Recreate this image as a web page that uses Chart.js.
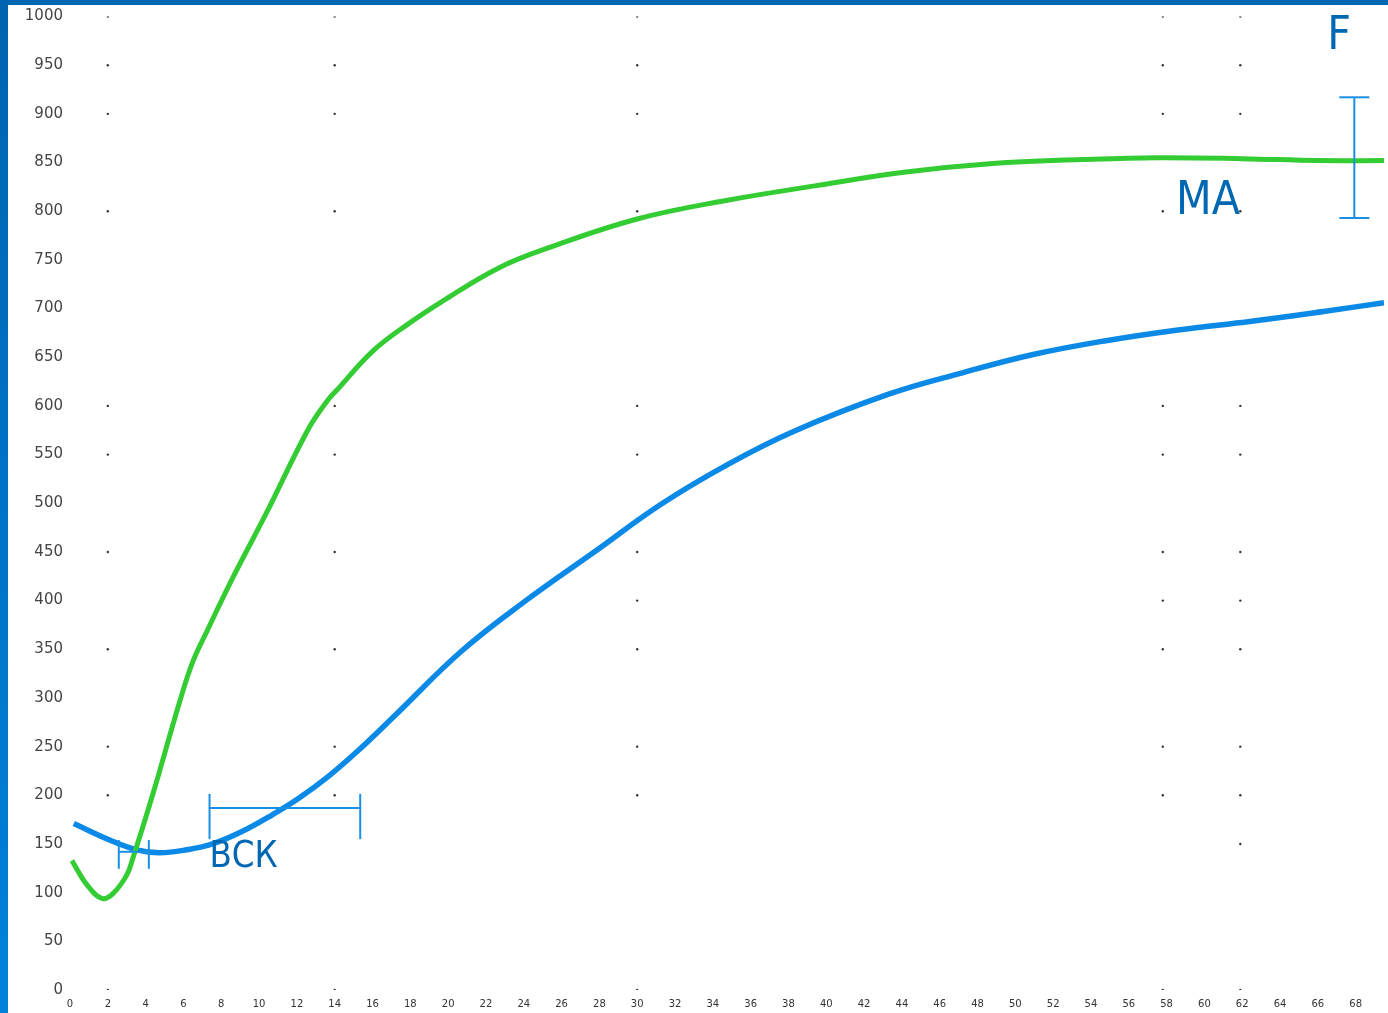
<!DOCTYPE html>
<html>
<head>
<meta charset="utf-8">
<script src="https://cdn.jsdelivr.net/npm/chart.js@4.4.1/dist/chart.umd.min.js"></script>
<style>
  html, body { margin: 0; padding: 0; background: #fff; overflow: hidden; }
  #topBar { position: absolute; left: 0; top: 0; width: 1388px; height: 5px; background: #0066b1; }
  #leftBar { position: absolute; left: 0; top: 0; width: 8px; height: 1013px;
             background: linear-gradient(#0064b0, #0082da); }
  #wrap { position: absolute; left: 8px; top: 5px; width: 1380px; height: 1008px; }
</style>
</head>
<body>
<div id="wrap"><canvas id="chart" width="1380" height="1008"></canvas></div>
<div id="topBar"></div>
<div id="leftBar"></div>
<script>
// time axis and value axis ticks
const xTickValues = [0, 2, 4, 6, 8, 10, 12, 14, 16, 18, 20, 22, 24, 26, 28, 30, 32, 34,
  36, 38, 40, 42, 44, 46, 48, 50, 52, 54, 56, 58, 60, 62, 64, 66, 68];
const yTickValues = [0, 50, 100, 150, 200, 250, 300, 350, 400, 450, 500, 550, 600, 650,
  700, 750, 800, 850, 900, 950, 1000];

// green curve (MA)
const greenT = [0.1, 0.9, 1.69, 2.27, 3.0, 3.32, 4.38, 5.8, 6.49, 7.23, 8.6, 10.39,
  12.6, 13.6, 14.2, 16, 17.8, 19.9, 22.7, 25.25, 30, 34.7, 39.4, 44.1, 48.8,
  53.5, 57.5, 62, 66, 69.5];
const greenVals = [133, 108, 94, 99, 118, 135, 201, 296, 337, 368, 423, 490,
  576, 605, 618, 656, 683, 710, 742, 762, 792, 811, 826, 840, 849,
  853, 855, 854, 852, 852];

// blue curve
const blueT = [0.2, 2.1, 3.53, 4.74, 6.17, 7.54, 9.12, 10.7, 12.1, 13.7, 15.3, 17.24, 20.7,
  24.25, 27.8, 31.26, 34.8, 38.3, 43.3, 47.2, 51.0, 54.8, 58.6, 62.5, 66.3, 69.5];
const blueVals = [171, 154, 144, 141, 144, 150, 163, 180, 197, 220, 247, 283, 348,
  402, 451, 499, 540, 574, 612, 634, 653, 667, 678, 687, 697, 706];

// scattered grid dots
const dotCols = [2, 14, 30, 57.8, 61.9];
const dotRows = [0, 200, 250, 350, 450, 550, 600, 800, 900, 950, 1000];
const dotRowsExtra = [[30, 400], [57.8, 400], [61.9, 400], [61.9, 150]];

// annotations, in data units
const fBar = { x: 67.93, low: 793, high: 917 };
const bckBar = { x0: 7.38, x1: 15.35, y: 187, capTop: 201.5, capBottom: 155 };
const smallBar = { x0: 2.58, x1: 4.17, y: 142, capTop: 154, capBottom: 124.5 };
const labels = [
  { text: 'F', x: 66.5, y: 967, size: 47 },
  { text: 'MA', x: 58.5, y: 797, size: 47 },
  { text: 'ВСК', x: 7.38, y: 126.5, size: 37 }
];

const gridDots = [];
dotCols.forEach(c => dotRows.forEach(r => gridDots.push({ x: c, y: r })));
dotRowsExtra.forEach(p => gridDots.push({ x: p[0], y: p[1] }));

const annotate = {
  id: 'annotate',
  afterDatasetsDraw(chart) {
    const { ctx, scales: { x, y } } = chart;
    ctx.save();
    ctx.strokeStyle = '#1a8fe6';
    ctx.lineWidth = 2;
    const line = (x0, y0, x1, y1) => {
      ctx.beginPath(); ctx.moveTo(x0, y0); ctx.lineTo(x1, y1); ctx.stroke();
    };
    // F error bar
    const fx = x.getPixelForValue(fBar.x);
    const fl = y.getPixelForValue(fBar.low), fh = y.getPixelForValue(fBar.high);
    line(fx, fl, fx, fh);
    line(fx - 15, fl, fx + 15, fl);
    line(fx - 15, fh, fx + 15, fh);
    // brackets
    [bckBar, smallBar].forEach(b => {
      const a = x.getPixelForValue(b.x0), c = x.getPixelForValue(b.x1);
      const yy = y.getPixelForValue(b.y);
      const t = y.getPixelForValue(b.capTop), bt = y.getPixelForValue(b.capBottom);
      line(a, yy, c, yy);
      line(a, t, a, bt);
      line(c, t, c, bt);
    });
    // text
    ctx.fillStyle = '#0067b3';
    ctx.textBaseline = 'alphabetic';
    ctx.textAlign = 'left';
    labels.forEach(l => {
      ctx.save();
      ctx.translate(x.getPixelForValue(l.x), y.getPixelForValue(l.y));
      ctx.scale(0.88, 1);
      ctx.font = l.size + 'px "DejaVu Sans"';
      ctx.fillText(l.text, 0, 0);
      ctx.restore();
    });
    ctx.restore();
  }
};

new Chart(document.getElementById('chart'), {
  type: 'line',
  data: {
    datasets: [
      { label: 'MA', data: greenT.map((t, i) => ({ x: t, y: greenVals[i] })),
        borderColor: '#33cc33', borderWidth: 5, pointRadius: 0,
        tension: 0.4, fill: false, order: 1 },
      { label: 'blue', data: blueT.map((t, i) => ({ x: t, y: blueVals[i] })),
        borderColor: '#0a8ae6', borderWidth: 5.5, pointRadius: 0,
        tension: 0.4, fill: false, order: 2 },
      { label: 'dots', data: gridDots, showLine: false, pointRadius: 1.2,
        pointBackgroundColor: '#333', pointBorderWidth: 0, order: 3 }
    ]
  },
  options: {
    responsive: false,
    animation: false,
    layout: { padding: { top: 11, right: 0, left: 0, bottom: 0 } },
    plugins: { legend: { display: false }, tooltip: { enabled: false } },
    scales: {
      x: {
        type: 'linear', min: 0, max: 69.5,
        border: { display: false },
        grid: { display: false, drawTicks: false },
        afterBuildTicks: axis => { axis.ticks = xTickValues.map(v => ({ value: v })); },
        afterFit: axis => { axis.height = 23; },
        ticks: { autoSkip: false, maxRotation: 0, padding: 8, color: '#333',
                 font: { family: 'DejaVu Sans', size: 10 } }
      },
      y: {
        min: 0, max: 1000,
        border: { display: false },
        grid: { display: false, drawTicks: false },
        afterBuildTicks: axis => { axis.ticks = yTickValues.map(v => ({ value: v })); },
        afterFit: axis => { axis.width = 62; },
        ticks: { padding: 7, color: '#444', callback: v => String(v),
                 font: { family: 'DejaVu Sans', size: 15, lineHeight: 0.6 } }
      }
    }
  },
  plugins: [annotate]
});
</script>
</body>
</html>
